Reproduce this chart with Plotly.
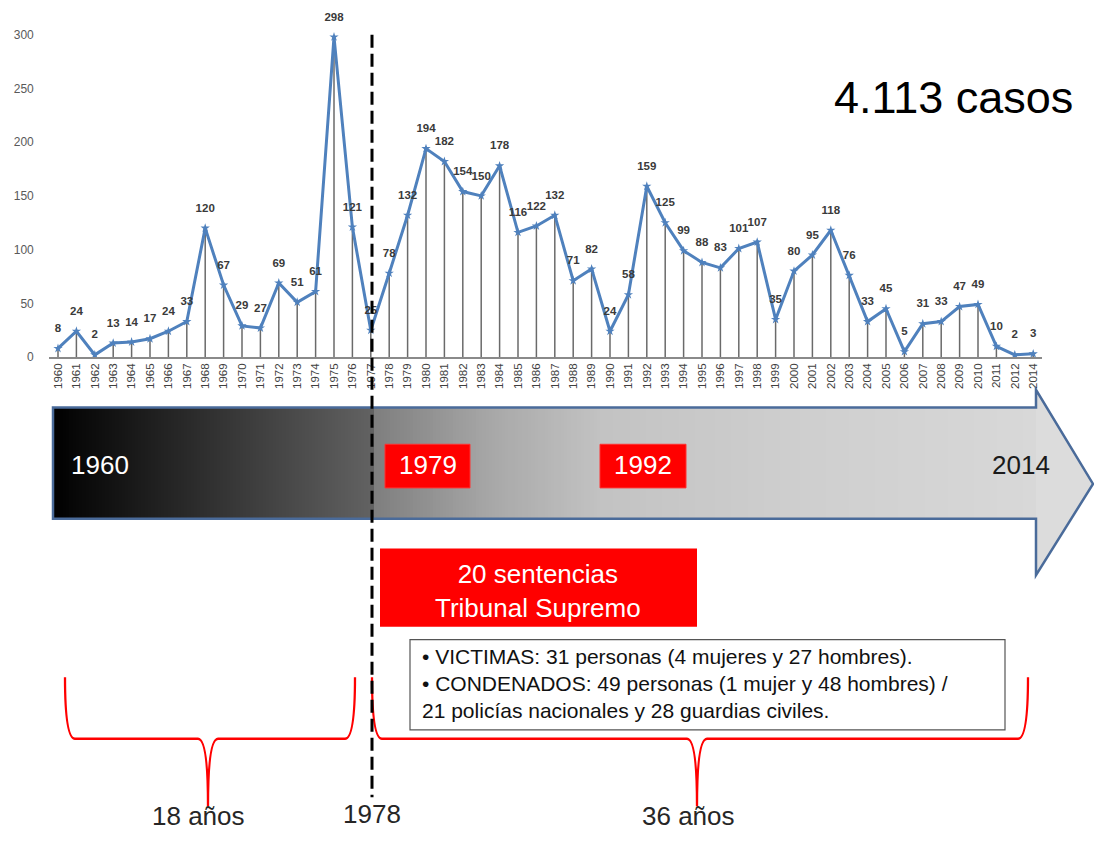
import plotly.graph_objects as go

# page body has an 8px default margin: the figure is sized to fit inside it
OFF = 8
FW, FH = 1102 - 2 * OFF, 843 - 2 * OFF

years = [str(y) for y in range(1960, 2013)] + ["2014"]
cases = [8, 24, 2, 13, 14, 17, 24, 33, 120, 67,
         29, 27, 69, 51, 61, 298, 121, 25, 78, 132,
         194, 182, 154, 150, 178, 116, 122, 132, 71, 82,
         24, 58, 159, 125, 99, 88, 83, 101, 107, 35,
         80, 95, 118, 76, 33, 45, 5, 31, 33, 47,
         49, 10, 2, 3]
y_ticks = [0, 50, 100, 150, 200, 250, 300]

title_text = "4.113 casos"
bar_labels = ["1960", "2014"]
red_years = ["1979", "1992"]
sentencias = "20 sentencias<br>Tribunal Supremo"
info_lines = ["• VICTIMAS: 31 personas (4 mujeres y 27 hombres).",
              "• CONDENADOS: 49 personas (1 mujer y 48 hombres) /",
              "21 policías nacionales y 28 guardias civiles."]
period_labels = ["18 años", "1978", "36 años"]


def px(x):
    return (x - OFF) / FW


def py(y):
    return 1 - (y - OFF) / FH


FONT = "Liberation Sans, Arial, sans-serif"
fig = go.Figure()

# gradient bar body (heatmap on its own axes)
ncol = 300
fig.add_trace(go.Heatmap(
    z=[list(range(ncol))], xaxis="x2", yaxis="y2",
    colorscale=[[0, "#000000"], [0.03, "#0a0a0a"], [0.325, "#626262"],
                [0.3255, "#7e7e7e"], [0.45, "#a9a9a9"], [0.56, "#c3c3c3"],
                [0.75, "#cecece"], [1, "#d8d8d8"]],
    showscale=False, hoverinfo="skip"))

# drop lines
fig.add_trace(go.Scatter(
    x=years, y=cases, mode="markers", marker=dict(opacity=0, size=1),
    error_y=dict(type="data", symmetric=False, array=[0] * len(cases),
                 arrayminus=cases, width=0, thickness=1.5, color="#6a6a6a"),
    hoverinfo="skip"))

# main line
fig.add_trace(go.Scatter(
    x=years, y=cases, mode="lines+markers",
    line=dict(color="#4f81bd", width=3),
    marker=dict(symbol="star", size=7, color="#4f81bd")))

# data labels
fig.add_trace(go.Scatter(
    x=years, y=cases, mode="text+markers",
    marker=dict(size=20, opacity=0),
    text=[str(v) for v in cases], textposition="top center",
    textfont=dict(family=FONT, size=11.5, color="#3a3a3a", weight="bold"),
    cliponaxis=False, hoverinfo="skip"))

BLUE = "#4a6b9a"
shapes = []
# arrow head fill
shapes.append(dict(type="path", xref="paper", yref="paper",
                   path=f"M {px(1036)},{py(393)} L {px(1093)},{py(488)} L {px(1036)},{py(580)} Z",
                   fillcolor="#dcdcdc", line=dict(width=0), layer="below"))
# arrow outline (body + head as one shape)
shapes.append(dict(type="path", xref="paper", yref="paper",
                   path=(f"M {px(1036)},{py(411)} L {px(53)},{py(411)} L {px(53)},{py(523)} "
                         f"L {px(1036)},{py(523)} L {px(1036)},{py(580)} L {px(1093)},{py(488)} "
                         f"L {px(1036)},{py(393)} Z"),
                   fillcolor="rgba(0,0,0,0)", line=dict(color=BLUE, width=2.5)))
# red year boxes
for x0, x1 in [(385, 470), (600, 686)]:
    shapes.append(dict(type="rect", xref="paper", yref="paper",
                       x0=px(x0), x1=px(x1), y0=py(492), y1=py(448),
                       fillcolor="#ff0000", line=dict(color="#ff3030", width=1)))
# sentencias box
shapes.append(dict(type="rect", xref="paper", yref="paper",
                   x0=px(380), x1=px(697), y0=py(632), y1=py(553),
                   fillcolor="#ff0000", line=dict(width=0)))
# info box
shapes.append(dict(type="rect", xref="paper", yref="paper",
                   x0=px(410), x1=px(1005), y0=py(736), y1=py(645),
                   fillcolor="white", line=dict(color="#555555", width=1.2)))


def brace(xl, xr, xm, ytop, yh, ytip, r=10):
    return (f"M {px(xl)},{py(ytop)} Q {px(xl)},{py(yh)} {px(xl + r)},{py(yh)} "
            f"L {px(xm - r)},{py(yh)} Q {px(xm)},{py(yh)} {px(xm)},{py(ytip)} "
            f"Q {px(xm)},{py(yh)} {px(xm + r)},{py(yh)} "
            f"L {px(xr - r)},{py(yh)} Q {px(xr)},{py(yh)} {px(xr)},{py(ytop)}")


shapes.append(dict(type="path", xref="paper", yref="paper",
                   path=brace(65, 355, 208, 683, 745, 813),
                   line=dict(color="#ff0000", width=2.3)))
shapes.append(dict(type="path", xref="paper", yref="paper",
                   path=brace(372, 1028, 697, 683, 745, 813),
                   line=dict(color="#ff0000", width=2.3)))
# dashed 1978 line
shapes.append(dict(type="line", xref="paper", yref="paper",
                   x0=px(372), x1=px(372), y0=py(35), y1=py(804),
                   line=dict(color="black", width=3, dash="13px,6px")))


def label(x, y, text, size, color, xanchor="center"):
    return dict(x=px(x), y=py(y), xref="paper", yref="paper", text=text,
                showarrow=False, xanchor=xanchor, yanchor="middle",
                font=dict(family=FONT, size=size, color=color))


ann = [label(953, 98, title_text, 45, "black"),
       label(100, 469, bar_labels[0], 26, "white"),
       label(1021, 469, bar_labels[1], 26, "#1a1a1a")]
for xc, t in zip([427.5, 643], red_years):
    ann.append(label(xc, 469, t, 26, "white"))
ann.append(label(538, 596, sentencias, 26, "white"))
for i, line in enumerate(info_lines):
    ann.append(label(420, 662 + 27 * i, line, 21, "#111111", xanchor="left"))
for xc, yc, t in zip([198, 372, 688], [823, 821, 823], period_labels):
    ann.append(label(xc, yc, t, 26, "#262626"))

fig.update_layout(
    width=FW, height=FH, margin=dict(l=0, r=0, t=0, b=0),
    paper_bgcolor="white", plot_bgcolor="rgba(0,0,0,0)", showlegend=False,
    shapes=shapes, annotations=ann,
    xaxis=dict(type="category", domain=[px(48.8), px(1042.4)], range=[-0.5, len(years) - 0.5],
               showgrid=False, zeroline=False, showline=True, linecolor="#8a8a8a", linewidth=1.5,
               ticks="", tickangle=-90, tickfont=dict(family=FONT, size=11.5, color="#404040"),
               anchor="y"),
    yaxis=dict(domain=[py(360), py(13.3)], range=[0, 320], tickvals=y_ticks,
               showgrid=False, zeroline=False, showline=False, ticks="",
               ticklabelstandoff=14,
               tickfont=dict(family=FONT, size=12, color="#595959"), anchor="x"),
    xaxis2=dict(domain=[px(53), px(1036)], visible=False, anchor="y2",
                range=[-0.5, ncol - 0.5]),
    yaxis2=dict(domain=[py(523), py(411)], visible=False, anchor="x2", range=[-0.5, 0.5]),
)

fig.write_html("out.html")
